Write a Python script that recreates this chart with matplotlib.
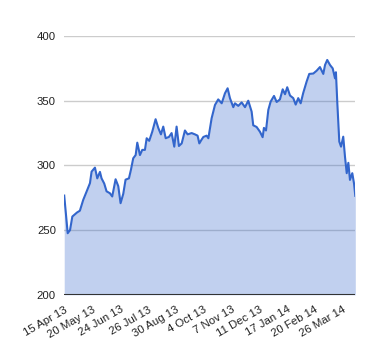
import matplotlib
matplotlib.use("Agg")
import matplotlib.pyplot as plt

# trading-day index and closing value
day = [0, 3, 5, 7, 11, 13.5, 16.4, 19.3, 22.2, 23.6, 26.5, 28.5, 30.8, 32.2, 34.5,
       36.5, 39.4, 41.4, 44.3, 46.6, 48.6, 50.9, 52.9, 55.8, 57.5, 59.5, 61.6, 63,
       65.3, 67.3, 69.6, 71.1, 73.3, 75.9, 78.8, 81.1, 83.4, 85.4, 87.5, 90.3, 92.6,
       94.9, 96.9, 98.9, 101.3, 104.1, 106.4, 109.9, 112.7, 115, 116.5, 118.5, 120,
       122.8, 124.3, 127.1, 130, 132.8, 135.8, 138.6, 140.9, 142.9, 145.8, 147.2,
       150.1, 153, 155.9, 158.7, 161.6, 163, 165.9, 168.8, 171.1, 172.2, 174, 176,
       178, 180.9, 183.2, 186, 188.4, 190.4, 192.3, 194.7, 197.5, 199.6, 201.8,
       203.9, 206.1, 209, 211.3, 214.8, 217.7, 220.5, 223.4, 224.9, 226.8, 229.2,
       231.5, 233.5, 234.3, 235.5, 237.2, 238.7, 240.6, 242.1, 243.6, 245, 246.4,
       248.4, 249.9, 251]
price = [276.7, 247.6, 250, 260.5, 263.6, 265, 273.4, 279.8, 286.3, 295.2, 298.3,
         290, 295, 290, 286, 280, 278.5, 276, 289.3, 284, 270.8, 278, 289, 290,
         296.5, 305.5, 308, 317.6, 308, 312, 312, 321, 319, 326, 335.7, 329, 324,
         330, 321, 322, 325, 314.5, 330, 315, 317, 327, 324, 325, 324, 323, 317, 320,
         322, 323, 321, 336.4, 346.7, 351, 348, 355.7, 359.6, 352, 345, 348, 346,
         348.7, 345, 350, 341.6, 331, 329.7, 326, 321.8, 329, 327, 342.9, 349.3,
         353.7, 349, 351, 358.8, 355, 360.4, 354, 352, 347, 352, 348, 356, 364.7,
         370.7, 371, 373.2, 376, 370.7, 377.6, 381.5, 377.6, 375, 367.3, 372, 348,
         318.4, 314.5, 322.2, 306.8, 294, 302, 288.8, 294, 286, 276.5]

tick_days = [0, 24, 48, 72, 96, 120, 144, 168, 192, 216, 240]
tick_labels = ["15 Apr 13", "20 May 13", "24 Jun 13", "26 Jul 13", "30 Aug 13",
               "4 Oct 13", "7 Nov 13", "11 Dec 13", "17 Jan 14", "20 Feb 14",
               "26 Mar 14"]
y_ticks = [200, 250, 300, 350, 400]

plt.rcParams['font.family'] = ['Liberation Sans', 'DejaVu Sans']

fig = plt.figure(figsize=(3.8, 3.6), dpi=100)
ax = fig.add_axes([0.169, 0.181, 0.766, 0.719])

ax.fill_between(day, price, 200, color="#3366cc", alpha=0.3, linewidth=0, zorder=2)
ax.plot(day, price, color="#3366cc", linewidth=1.5, zorder=3)

for v in y_ticks[1:]:
    ax.axhline(v, color="#cccccc", linewidth=1, zorder=1)
ax.axhline(200, color="#333333", linewidth=1.5, zorder=4)

ax.set_xlim(0, 251)
ax.set_ylim(200, 400)
ax.set_yticks(y_ticks)
ax.set_yticklabels([str(v) for v in y_ticks], fontsize=8.2, color="#222222")
ax.set_xticks(tick_days)
ax.set_xticklabels(tick_labels, fontsize=8.2, color="#222222", rotation=30,
                   ha="right", rotation_mode="anchor")
ax.tick_params(axis="y", length=0, pad=6)
ax.tick_params(axis="x", length=0, pad=7)
for s in ax.spines.values():
    s.set_visible(False)

fig.savefig("out.png", dpi=100)
